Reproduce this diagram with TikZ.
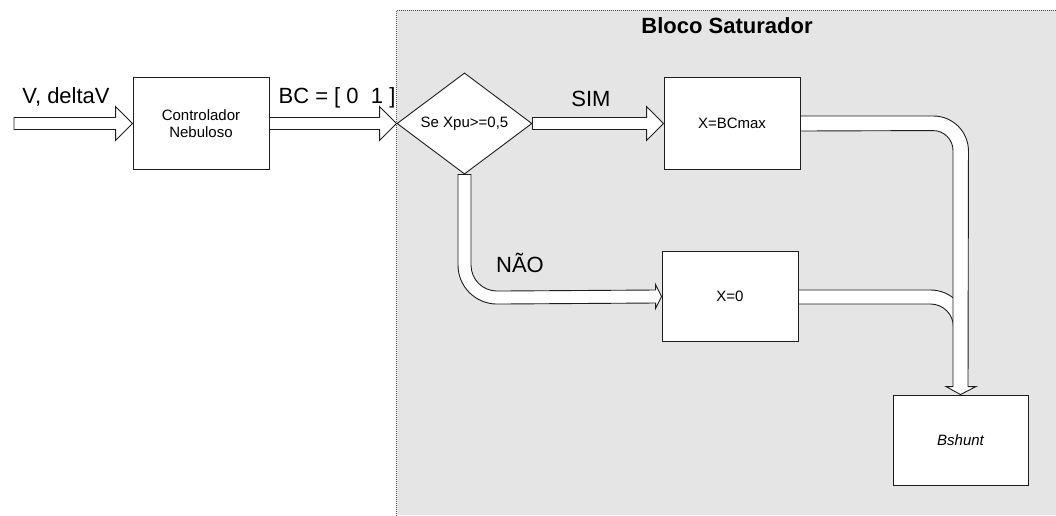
\documentclass[tikz,border=0pt]{standalone}
\usepackage{fontspec}
\setmainfont{Liberation Sans}
\usetikzlibrary{shapes.geometric,calc}
\definecolor{bg}{RGB}{229,229,229}
\definecolor{ln}{RGB}{30,30,30}
\begin{document}
\begin{tikzpicture}[x=1pt,y=-1pt,
  box/.style={draw=ln,line width=0.9pt,fill=white,minimum width=136pt,minimum height=92pt,inner sep=0pt,font=\fontsize{15}{17.5}\selectfont,align=center},
  dia/.style={diamond,draw=ln,line width=0.9pt,fill=white,minimum width=135pt,minimum height=100pt,inner sep=0pt,font=\fontsize{15}{17.5}\selectfont},
  pipe/.style={draw=ln,line width=0.9pt,fill=white,line join=miter},
  big/.style={font=\fontsize{22}{26}\selectfont,anchor=base,inner sep=0pt},
  frame/.style={draw=black!70,line width=0.9pt,dash pattern=on 1pt off 1pt},
]
\useasboundingbox (0,0) rectangle (1056,515);
% saturator block background
\fill[bg] (396.5,10) rectangle (1056,515);
\draw[frame] (1056,10) -- (396.5,10) -- (396.5,515);
\node[big,font=\fontsize{22}{26}\selectfont\bfseries] (title) at (727,33) {Bloco Saturador};

% nodes
\coordinate (inA) at (14,123.5);
\node[box] (ctrl) at (201,123.5) {Controlador\\Nebuloso};
\node[dia] (dec) at (464.5,123.5) {Se Xpu>=0,5};
\node[box] (bcmax) at (732,123.5) {X=BCmax};
\node[box,minimum height=90pt] (x0) at (730,296.5) {X=0};
\node[box,minimum width=135pt,minimum height=90pt] (bsh) at (960.5,440) {\itshape Bshunt};

% straight hollow arrows
\newcommand\hollowarrow[2]{%
  \draw[pipe] ($(#1)+(0,-6)$) -- ($(#2)+(-17,-6)$) -- ($(#2)+(-17,-17)$) -- (#2)
    -- ($(#2)+(-17,17)$) -- ($(#2)+(-17,6)$) -- ($(#1)+(0,6)$) -- cycle;}
\hollowarrow{inA}{ctrl.west}
\hollowarrow{ctrl.east}{dec.west}
\hollowarrow{dec.east}{bcmax.west}

% NAO branch
\draw[pipe] ($(dec.south)+(-6.5,0)$) -- ++(0,90.5)
   arc[start angle=180,end angle=90,radius=39]
   -- ($(x0.west)+(-6,6.5)$) -- ++(0,5.5) -- (x0.west) -- ($(x0.west)+(-6,-12)$) -- ++(0,5.5)
   -- ($(dec.south)+(32.5,116.5)$)
   arc[start angle=90,end angle=180,radius=26]
   -- ($(dec.south)+(6.5,0)$) -- cycle;

% lower output pipe (merges into the main shaft)
\draw[pipe] ($(x0.east)+(0,-6.5)$) -- ++(132,0)
   arc[start angle=270,end angle=360,radius=37] -- ++(-14,0)
   arc[start angle=0,end angle=-90,radius=23]
   -- ($(x0.east)+(0,7.5)$) -- cycle;

% upper output pipe and main shaft to Bshunt
\draw[pipe] ($(bcmax.east)+(0,-7.5)$) -- ++(133,0)
   arc[start angle=270,end angle=360,radius=35]
   -- ($(bsh.north)+(7.5,-8)$) -- ++(8,0) -- (bsh.north) -- ($(bsh.north)+(-14.5,-8)$) -- ++(7,0)
   -- ++(0,-236)
   arc[start angle=0,end angle=-90,radius=20]
   -- ($(bcmax.east)+(0,7.5)$) -- cycle;

% labels
\node[big] (lV) at (66,103) {V, deltaV};
\node[big] (lBC) at (337,103) {BC = [ 0\ \ 1 ]};
\node[big] (lSIM) at (591,106) {SIM};
\node[big] (lNAO) at (520,272) {NÃO};
\end{tikzpicture}
\end{document}
